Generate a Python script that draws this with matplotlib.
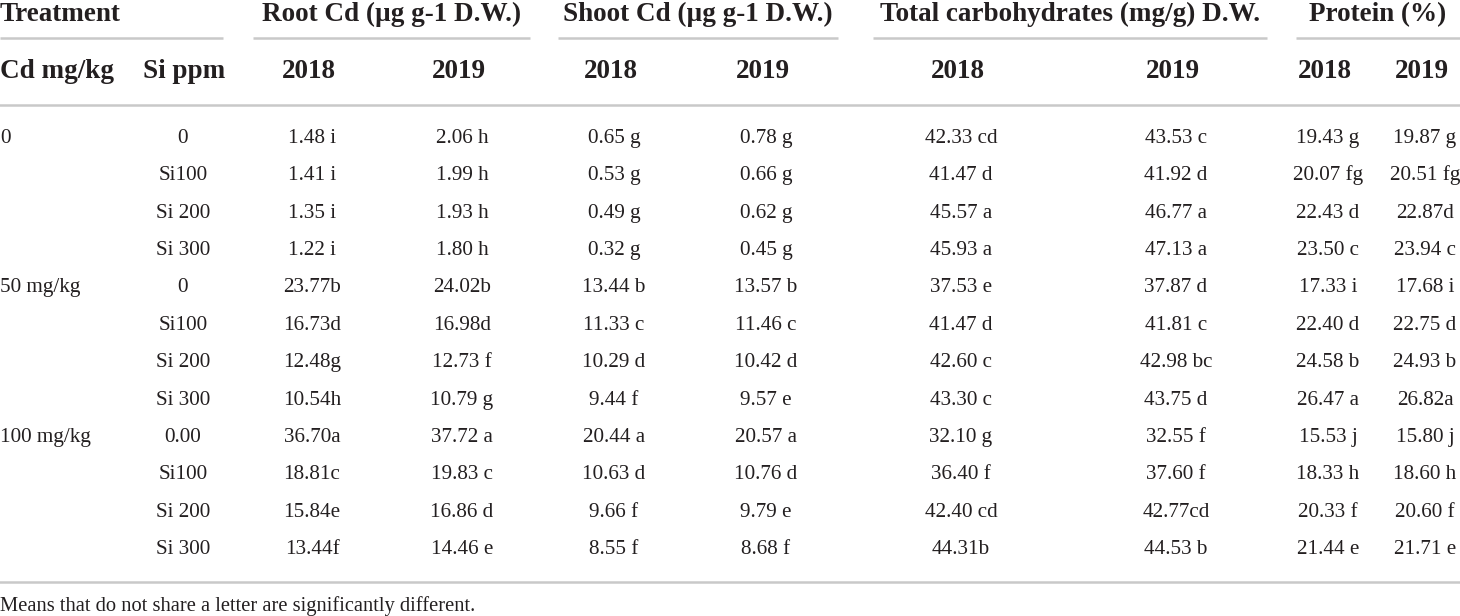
import matplotlib.pyplot as plt

plt.rcParams['font.family'] = ['Liberation Serif', 'DejaVu Serif']

# ---- table content ----
cd_levels = ["0", "", "", "", "50 mg/kg", "", "", "", "100 mg/kg", "", "", ""]
si_levels = ["0", "Si100", "Si 200", "Si 300",
             "0", "Si100", "Si 200", "Si 300",
             "0.00", "Si100", "Si 200", "Si 300"]

root_2018 = ["1.48 i", "1.41 i", "1.35 i", "1.22 i", "23.77b", "16.73d",
             "12.48g", "10.54h", "36.70a", "18.81c", "15.84e", "13.44f"]
root_2019 = ["2.06 h", "1.99 h", "1.93 h", "1.80 h", "24.02b", "16.98d",
             "12.73 f", "10.79 g", "37.72 a", "19.83 c", "16.86 d", "14.46 e"]
shoot_2018 = ["0.65 g", "0.53 g", "0.49 g", "0.32 g", "13.44 b", "11.33 c",
              "10.29 d", "9.44 f", "20.44 a", "10.63 d", "9.66 f", "8.55 f"]
shoot_2019 = ["0.78 g", "0.66 g", "0.62 g", "0.45 g", "13.57 b", "11.46 c",
              "10.42 d", "9.57 e", "20.57 a", "10.76 d", "9.79 e", "8.68 f"]
carb_2018 = ["42.33 cd", "41.47 d", "45.57 a", "45.93 a", "37.53 e", "41.47 d",
             "42.60 c", "43.30 c", "32.10 g", "36.40 f", "42.40 cd", "44.31b"]
carb_2019 = ["43.53 c", "41.92 d", "46.77 a", "47.13 a", "37.87 d", "41.81 c",
             "42.98 bc", "43.75 d", "32.55 f", "37.60 f", "42.77cd", "44.53 b"]
prot_2018 = ["19.43 g", "20.07 fg", "22.43 d", "23.50 c", "17.33 i", "22.40 d",
             "24.58 b", "26.47 a", "15.53 j", "18.33 h", "20.33 f", "21.44 e"]
prot_2019 = ["19.87 g", "20.51 fg", "22.87d", "23.94 c", "17.68 i", "22.75 d",
             "24.93 b", "26.82a", "15.80 j", "18.60 h", "20.60 f", "21.71 e"]

groups = ["Treatment", "Root Cd (µg g-1 D.W.)", "Shoot Cd (µg g-1 D.W.)",
          "Total carbohydrates (mg/g) D.W.", "Protein (%)"]
years = ["2018", "2019"]
footnote = "Means that do not share a letter are significantly different."

# ---- layout (pixel coords, text placed on baselines) ----
W, H = 1460, 616
fig = plt.figure(figsize=(W / 100, H / 100), dpi=100)
ax = fig.add_axes([0, 0, 1, 1])
ax.set_xlim(0, W)
ax.set_ylim(H, 0)
ax.axis('off')

line_col = '#c9c9c9'
txt_col = '#231f20'
hdr_size = 19.5
data_size = 15.2

group_spans = [(0, 223), (253, 530), (558, 838), (873, 1267), (1296, 1460)]
col_x = [312, 462, 614, 766, 961, 1176, 1328, 1425]
columns = [root_2018, root_2019, shoot_2018, shoot_2019,
           carb_2018, carb_2019, prot_2018, prot_2019]

# header row 1
for i, (name, (x0, x1)) in enumerate(zip(groups, group_spans)):
    if i == 0:
        ax.text(x0, 21, name, ha='left', va='baseline', fontsize=hdr_size,
                fontweight='bold', color=txt_col)
    else:
        ax.text((x0 + x1) / 2, 21, name, ha='center', va='baseline',
                fontsize=hdr_size, fontweight='bold', color=txt_col)
    ax.plot([x0, x1], [38, 38], color=line_col, lw=1.8, solid_capstyle='butt')

# header row 2
ax.text(0, 78, "Cd mg/kg", ha='left', va='baseline', fontsize=hdr_size,
        fontweight='bold', color=txt_col)
ax.text(143, 78, "Si ppm", ha='left', va='baseline', fontsize=hdr_size,
        fontweight='bold', color=txt_col)
for j, x in enumerate(col_x):
    ax.text(x - 3, 78, years[j % 2], ha='center', va='baseline',
            fontsize=hdr_size, fontweight='bold', color=txt_col)

ax.plot([0, W], [105, 105], color=line_col, lw=1.8)

# body
row_y0, row_dy = 143, 37.36
for r in range(len(si_levels)):
    y = row_y0 + r * row_dy
    ax.text(0, y, cd_levels[r], ha='left', va='baseline', fontsize=data_size,
            color=txt_col)
    ax.text(183, y, si_levels[r], ha='center', va='baseline',
            fontsize=data_size, color=txt_col)
    for x, col in zip(col_x, columns):
        ax.text(x, y, col[r], ha='center', va='baseline', fontsize=data_size,
                color=txt_col)

ax.plot([0, W], [582, 582], color=line_col, lw=1.8)
ax.text(0, 611, footnote, ha='left', va='baseline', fontsize=14.8,
        color=txt_col)

fig.savefig('out.png', dpi=100, facecolor='white')
